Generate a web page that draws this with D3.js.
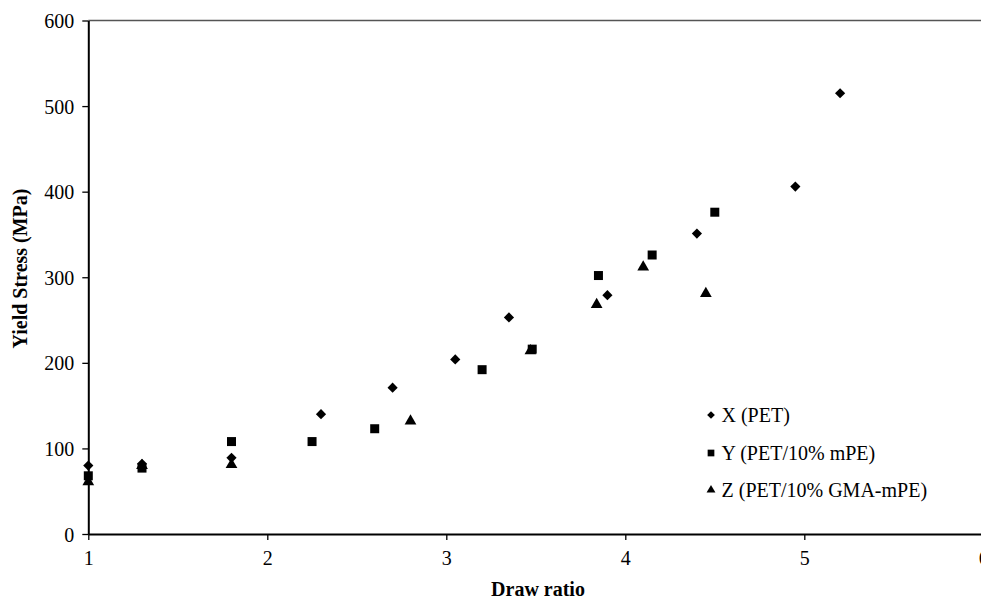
<!DOCTYPE html>
<html><head><meta charset="utf-8">
<script src="https://cdn.jsdelivr.net/npm/d3@7"></script>
<style>body{margin:0;background:#fff}svg{display:block}svg text{font-family:'Liberation Serif','Times New Roman',serif}</style>
</head><body><svg id="c" width="981" height="600"></svg>
<script>
const seriesNames = ["X (PET)", "Y (PET/10% mPE)", "Z (PET/10% GMA-mPE)"];
const xPET = [[1.0,80],[1.3,82],[1.8,89],[2.3,140],[2.7,171],[3.05,204],[3.35,253],[3.9,279],[4.4,351],[4.95,406],[5.2,515]];
const yPET_mPE = [[1.0,68],[1.3,77],[1.8,108],[2.25,108],[2.6,123],[3.2,192],[3.48,216],[3.85,302],[4.15,326],[4.5,376]];
const zPET_GMA = [[1.0,61],[1.3,80],[1.8,81],[2.8,132],[3.47,214],[3.84,268],[4.1,312],[4.45,281]];
const xTicks = [1,2,3,4,5,6];
const yTicks = [0,100,200,300,400,500,600];

const FONT = "'Liberation Serif','Times New Roman',serif";
const svg = d3.select("#c");
const x = d3.scaleLinear().domain([1,6]).range([88.3,983.3]);
const y = d3.scaleLinear().domain([0,600]).range([534,20.5]);

svg.append("line").attr("x1",88.3).attr("x2",981).attr("y1",y(600)).attr("y2",y(600)).attr("stroke","#555").attr("stroke-width",1.3);

const xa = svg.append("g").attr("transform","translate(0,534)").call(d3.axisBottom(x).tickValues(xTicks).tickSize(6).tickSizeOuter(0).tickFormat(d3.format("d")));
const ya = svg.append("g").attr("transform","translate(88.3,0)").call(d3.axisLeft(y).tickValues(yTicks).tickSize(6).tickSizeOuter(0).tickFormat(d3.format("d")));
[xa,ya].forEach(g=>{
  g.attr("font-family",FONT);
  g.select(".domain").attr("stroke","#000").attr("stroke-width",2);
  g.selectAll(".tick line").attr("stroke","#000").attr("stroke-width",1.3);
  g.selectAll("text").attr("font-size",20).attr("fill","#000").style("font-family",FONT);
});
xa.selectAll("text").attr("y",31).attr("dy",0);
ya.selectAll("text").attr("x",-14).attr("dy","0.35em");

svg.append("text").attr("x",538).attr("y",596).attr("text-anchor","middle").attr("font-size",20).attr("font-weight","bold").style("font-family",FONT).text("Draw ratio");
svg.append("text").attr("transform","translate(27,268.5) rotate(-90)").attr("text-anchor","middle").attr("font-size",20).attr("font-weight","bold").style("font-family",FONT).text("Yield Stress (MPa)");

const sym = [d3.symbolSquare, d3.symbolSquare, d3.symbolTriangle];
const rot = [45, 0, 0];
const sizes = [52, 81, 60];
const data = [xPET, yPET_mPE, zPET_GMA];
[2,1,0].forEach(i=>{
  svg.append("g").selectAll("path").data(data[i]).join("path")
    .attr("transform",d=>`translate(${x(d[0])},${y(d[1])}) rotate(${rot[i]})`)
    .attr("d",d3.symbol().type(sym[i]).size(sizes[i])).attr("fill","#000");
});

const ly = [415, 453, 490];
const lsizes = [30, 45, 34];
seriesNames.forEach((n,i)=>{
  svg.append("path").attr("transform",`translate(711,${ly[i]}) rotate(${rot[i]})`).attr("d",d3.symbol().type(sym[i]).size(lsizes[i])).attr("fill","#000");
  svg.append("text").attr("x",721.5).attr("y",ly[i]).attr("dy","0.35em").attr("font-size",20).style("font-family",FONT).text(n);
});
</script></body></html>
